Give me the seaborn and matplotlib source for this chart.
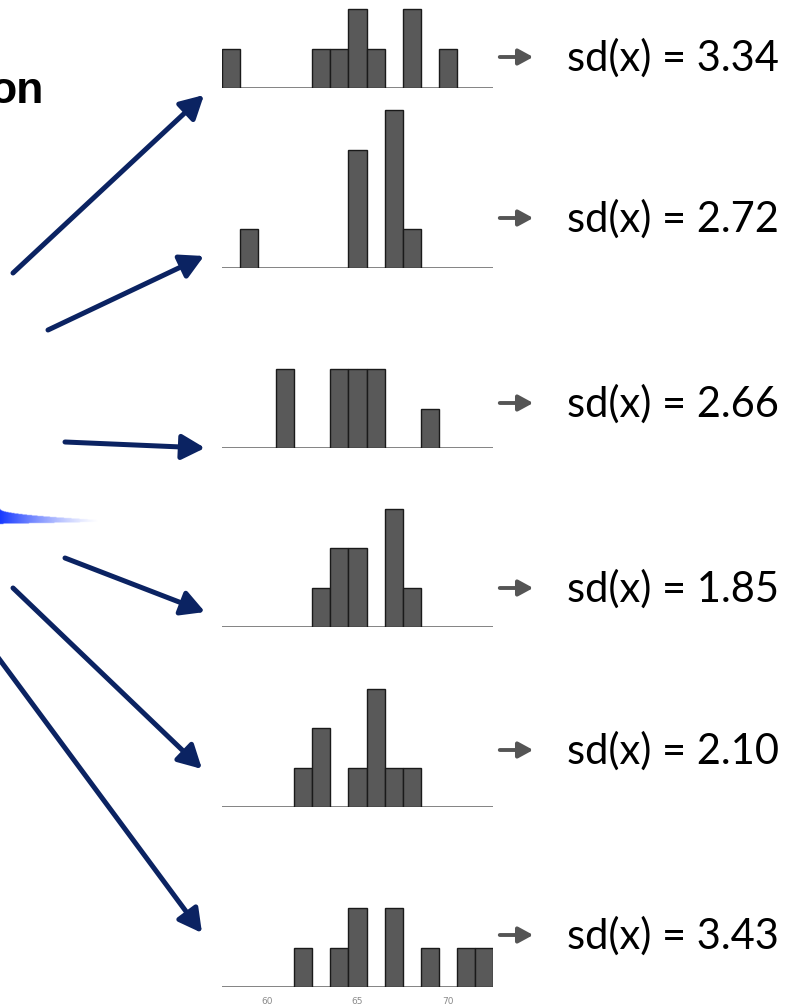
import numpy as np
import pandas as pd
import matplotlib.pyplot as plt
import seaborn as sns
from matplotlib.patches import FancyArrowPatch

# ---- data ----
# histogram bins are one unit wide, centred on whole numbers 58..72
bin_centers = [58, 59, 60, 61, 62, 63, 64, 65, 66, 67, 68, 69, 70, 71, 72]
counts_1 = [1, 0, 0, 0, 0, 1, 1, 2, 1, 0, 2, 0, 1, 0, 0]
counts_2 = [0, 1, 0, 0, 0, 0, 0, 3, 0, 4, 1, 0, 0, 0, 0]
counts_3 = [0, 0, 0, 2, 0, 0, 2, 2, 2, 0, 0, 1, 0, 0, 0]
counts_4 = [0, 0, 0, 0, 0, 1, 2, 2, 0, 3, 1, 0, 0, 0, 0]
counts_5 = [0, 0, 0, 0, 1, 2, 0, 1, 3, 1, 1, 0, 0, 0, 0]
counts_6 = [0, 0, 0, 0, 1, 0, 1, 2, 0, 2, 0, 1, 0, 1, 1]
sd_labels = ["3.34", "2.72", "2.66", "1.85", "2.10", "3.43"]
tick_values = [60, 65, 70]

all_counts = [counts_1, counts_2, counts_3, counts_4, counts_5, counts_6]

# ---- layout (pixels, measured from the top of the 792x1008 picture) ----
W, H = 792, 1008
baselines = [88, 268, 448, 627, 807, 987]
panel_heights = [86, 170, 170, 170, 170, 170]
px_per_count = 39.5
ax_left, ax_right = 222, 493
gray_arrow_y = [57, 218, 403, 588, 750, 935]

# blue arrows: start -> tip
blue_arrows = [((13, 273), (204, 95)),
               ((48, 330), (204, 256)),
               ((65, 442), (205, 448)),
               ((65, 558), (205, 612)),
               ((13, 588), (202, 769)),
               ((-6, 652), (202, 933))]

sns.set_style("white")
plt.rcParams["font.family"] = ["DejaVu Sans"]

fig = plt.figure(figsize=(W / 100, H / 100), dpi=100)


def fpx(x, y):
    # picture pixels (top-left origin) -> figure fraction
    return x / W, (H - y) / H


for i, counts in enumerate(all_counts):
    df = pd.DataFrame({"x": bin_centers, "n": counts})
    l, b = fpx(ax_left, baselines[i])
    ax = fig.add_axes([l, b, (ax_right - ax_left) / W, panel_heights[i] / H])
    sns.histplot(data=df, x="x", weights="n", binwidth=1, binrange=(57.5, 72.5), ax=ax,
                 color="#595959", edgecolor="#1a1a1a", linewidth=1.0, alpha=1)
    for p in ax.patches:
        if p.get_height() == 0:
            p.set_edgecolor("none")
    ax.axhline(0, color="#7a7a7a", lw=1.3, zorder=0)
    ax.set_xlim(57.5, 72.5)
    ax.set_ylim(0, panel_heights[i] / px_per_count)
    ax.set_frame_on(False)
    ax.set_yticks([])
    ax.set_ylabel("")
    ax.set_xlabel("")
    ax.tick_params(length=0)
    if i == len(all_counts) - 1:
        ax.set_xticks(tick_values)
        ax.set_xticklabels([str(t) for t in tick_values], fontsize=6.5, color="#8a8a8a")
        ax.tick_params(axis="x", pad=7.5)
    else:
        ax.set_xticks([])

    # little gray arrow and sd label to the right
    y = gray_arrow_y[i]
    fig.patches.append(FancyArrowPatch(fpx(497, y), fpx(536, y), transform=fig.transFigure,
                                       arrowstyle="-|>,head_length=0.55,head_width=0.3",
                                       mutation_scale=16, lw=2.8, color="#555555"))
    fig.text(*fpx(567, y + 14), f"sd(x) = {sd_labels[i]}", fontsize=30,
             family=["Lato", "DejaVu Sans"], va="baseline", ha="left", color="black")

# navy arrows from the left
for (x0, y0), (x1, y1) in blue_arrows:
    fig.patches.append(FancyArrowPatch(fpx(x0, y0), fpx(x1, y1), transform=fig.transFigure,
                                       arrowstyle="-|>,head_length=0.7,head_width=0.38",
                                       mutation_scale=20, lw=3.6, color="#0b2362",
                                       shrinkA=0, shrinkB=0))

# cut-off title word at the top left
fig.text(*fpx(44, 103), "on", fontsize=32, fontweight="bold", color="black",
         family=["Liberation Sans", "DejaVu Sans"], ha="right", va="baseline")

# fading blue wedge at the left edge, drawn as a small RGBA image
wx0, wx1, wy0, wy1 = 0, 100, 505, 527
gx, gy = np.meshgrid(np.linspace(0, 1, 200), np.linspace(wy0, wy1, 44))
top = 509 + 11 * np.sqrt(gx)
bot = 524 - 2 * gx
inside = (gy >= top) & (gy <= bot)
rgba = np.zeros(gx.shape + (4,))
rgba[..., 0], rgba[..., 1], rgba[..., 2] = 0.09, 0.22, 1.0
rgba[..., 3] = inside * np.clip(1 - gx, 0, 1) ** 1.3
wl, wb = fpx(wx0, wy1)
wax = fig.add_axes([wl, wb, (wx1 - wx0) / W, (wy1 - wy0) / H])
wax.imshow(rgba, aspect="auto", interpolation="bilinear")
wax.set_axis_off()

fig.savefig("out.png", dpi=100)
